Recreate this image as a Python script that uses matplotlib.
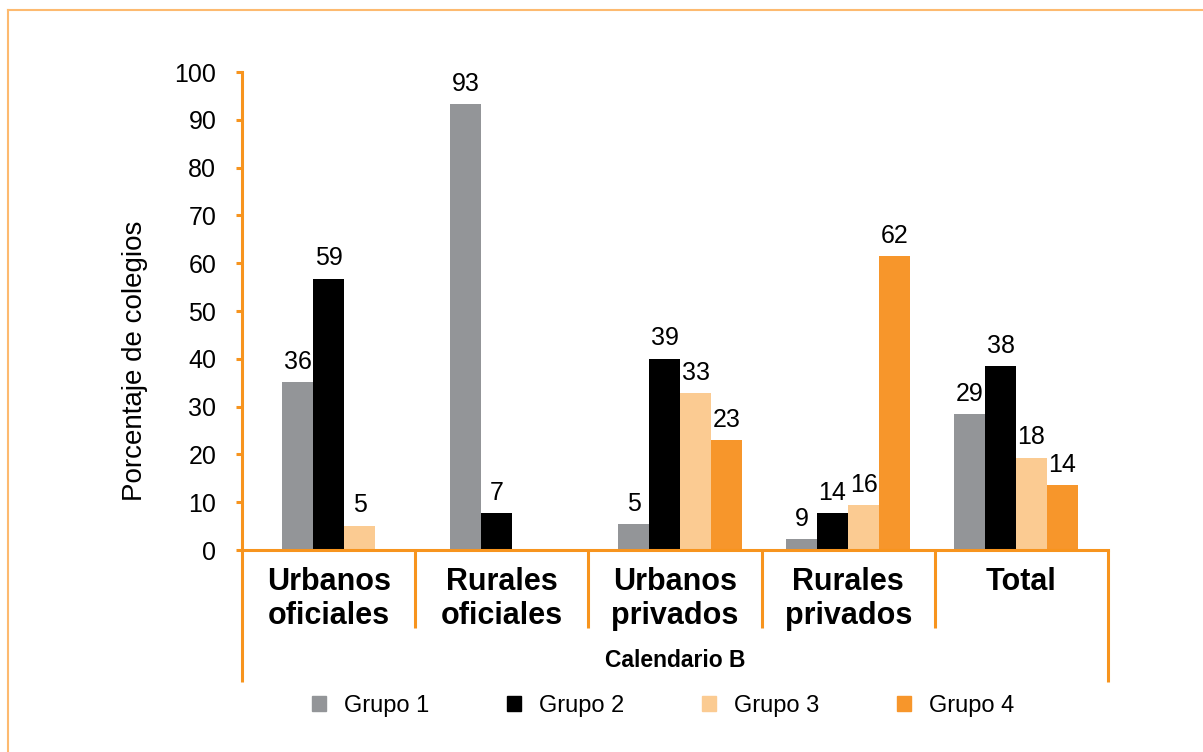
import numpy as np
import matplotlib
matplotlib.use("Agg")
import matplotlib.pyplot as plt
from matplotlib.lines import Line2D

plt.rcParams["font.family"] = ["Liberation Sans", "DejaVu Sans"]

categories = ["Urbanos\noficiales", "Rurales\noficiales", "Urbanos\nprivados",
              "Rurales\nprivados", "Total"]
groups = ["Grupo 1", "Grupo 2", "Grupo 3", "Grupo 4"]

# bar heights as drawn in the figure (None = no bar)
grupo1 = [35.1, 93.3, 5.4, 2.3, 28.4]
grupo2 = [56.8, 7.7, 40.0, 7.7, 38.5]
grupo3 = [5.1, None, 32.8, 9.4, 19.3]
grupo4 = [None, None, 23.0, 61.5, 13.5]

# printed value labels
labels1 = ["36", "93", "5", "9", "29"]
labels2 = ["59", "7", "39", "14", "38"]
labels3 = ["5", "", "33", "16", "18"]
labels4 = ["", "", "23", "62", "14"]

yticks = [0, 10, 20, 30, 40, 50, 60, 70, 80, 90, 100]

colors = ["#939598", "#000000", "#FBCB92", "#F7962B"]
ORANGE = "#F7941E"
FRAME = "#FDBA70"

fig = plt.figure(figsize=(12.03, 7.52), dpi=100)
ax = fig.add_axes([0.2012, 0.2686, 0.7199, 0.6356])

series = [grupo1, grupo2, grupo3, grupo4]
label_sets = [labels1, labels2, labels3, labels4]
x = np.arange(len(categories))
width = 0.1845

for i, (vals, labs) in enumerate(zip(series, label_sets)):
    offs = (i - 1.5) * width
    for xi, v, lab in zip(x, vals, labs):
        if v is None:
            continue
        ax.bar(xi + offs, v, width, color=colors[i], linewidth=0)
        if lab:
            ax.annotate(lab, (xi + offs, v), xytext=(0, 6),
                        textcoords="offset points", ha="center", va="bottom",
                        fontsize=18)

ax.set_xlim(-0.607, 4.548)
ax.set_ylim(0, 100)
ax.set_yticks(yticks)
ax.set_xticks([])
ax.tick_params(axis="y", colors=ORANGE, length=4.5, width=2.2, pad=14,
               labelsize=18, labelcolor="black")

for s in ["top", "right"]:
    ax.spines[s].set_visible(False)
for s in ["left", "bottom"]:
    ax.spines[s].set_color(ORANGE)
    ax.spines[s].set_linewidth(2.2)

ax.set_ylabel("Porcentaje de colegios", fontsize=20)
ax.yaxis.set_label_coords(-0.109, 0.395)

# category dividers and labels below the axis
bounds = np.linspace(*ax.get_xlim(), len(categories) + 1)
trans = ax.get_xaxis_transform()
for k, b in enumerate(bounds):
    low = -0.276 if k in (0, len(bounds) - 1) else -0.163
    ax.plot([b, b], [0, low], transform=trans, color=ORANGE, lw=2.2,
            clip_on=False, solid_capstyle="butt")
for k, cat in enumerate(categories):
    cx = (bounds[k] + bounds[k + 1]) / 2
    ax.text(cx, -0.036, cat, transform=trans, ha="center", va="top",
            fontsize=22, fontweight="bold", linespacing=1.17)

ax.text(0.5, -0.232, "Calendario B", transform=ax.transAxes, ha="center",
        va="center", fontsize=16.5, fontweight="bold")

handles = [plt.Rectangle((0, 0), 1, 1, color=c) for c in colors]
fig.legend(handles, groups, loc="center", bbox_to_anchor=(0.551, 0.061),
           ncol=4, frameon=False, fontsize=17, handlelength=0.6,
           handleheight=0.6, handletextpad=0.75, columnspacing=3.3)

# outer frame (top and left edges)
fig.add_artist(Line2D([8 / 1203, 1], [1 - 10 / 752, 1 - 10 / 752],
                      transform=fig.transFigure, color=FRAME, lw=1.5))
fig.add_artist(Line2D([8 / 1203, 8 / 1203], [0, 1 - 10 / 752],
                      transform=fig.transFigure, color=FRAME, lw=1.5))

fig.savefig("out.png", dpi=100)
